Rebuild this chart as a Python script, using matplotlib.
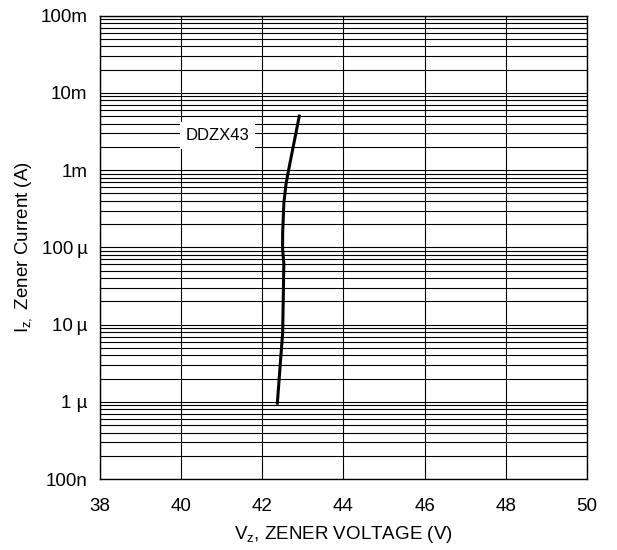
import matplotlib
matplotlib.use("Agg")
import matplotlib.pyplot as plt
from matplotlib.ticker import FixedLocator, LogLocator, NullFormatter

plt.rcParams['font.family'] = ['Liberation Sans', 'DejaVu Sans']

# Data
vz = [42.37, 42.45, 42.50, 42.515, 42.53, 42.50, 42.50, 42.53, 42.58, 42.64, 42.91]
iz = [9.6e-7, 3.5e-6, 7.7e-6, 2.1e-5, 6.2e-5, 9.3e-5, 1.5e-4, 3.7e-4, 6.4e-4, 9.6e-4, 5.0e-3]

x_ticks = [38, 40, 42, 44, 46, 48, 50]
y_ticks = [1e-7, 1e-6, 1e-5, 1e-4, 1e-3, 1e-2, 1e-1]
y_tick_labels = ["100n", "1 µ", "10\u2009µ", "100\u2009µ", "1m", "10m", "100m"]
device_label = "DDZX43"

fig = plt.figure(figsize=(6.17, 5.5), dpi=100)
ax = fig.add_axes([100/617, 1-479/550, (587-100)/617, (479-15.7)/550])

ax.set_yscale('log')
ax.set_xlim(38, 50)
ax.set_ylim(1e-7, 1e-1)

ax.xaxis.set_major_locator(FixedLocator(x_ticks))
ax.set_xticklabels([str(t) for t in x_ticks])
ax.yaxis.set_major_locator(FixedLocator(y_ticks))
ax.set_yticklabels(y_tick_labels)
ax.yaxis.set_minor_locator(LogLocator(base=10, subs=range(2, 10), numticks=100))
ax.yaxis.set_minor_formatter(NullFormatter())

ax.grid(True, which='major', axis='both', color='black', linewidth=0.8)
ax.grid(True, which='minor', axis='y', color='black', linewidth=0.8)
ax.tick_params(which='both', length=0, labelsize=13.5)
ax.tick_params(axis='x', pad=14)
ax.tick_params(axis='y', pad=9)
for s in ax.spines.values():
    s.set_color('black')
    s.set_linewidth(1.0)

ax.plot(vz, iz, color='black', linewidth=2.2, zorder=3, solid_joinstyle='round')

ax.text(40.89, 2.8e-3, device_label, fontsize=12, ha='center', va='center',
        zorder=4, bbox=dict(facecolor='white', edgecolor='none', boxstyle='square,pad=0.35'))

ax.set_xlabel("V$_\\mathregular{z}$, ZENER VOLTAGE (V)", fontsize=13.5, labelpad=6)
ax.set_ylabel("I$_\\mathregular{z,}$ Zener Current (A)", fontsize=13.5, labelpad=4)

fig.savefig("out.png", dpi=100)
